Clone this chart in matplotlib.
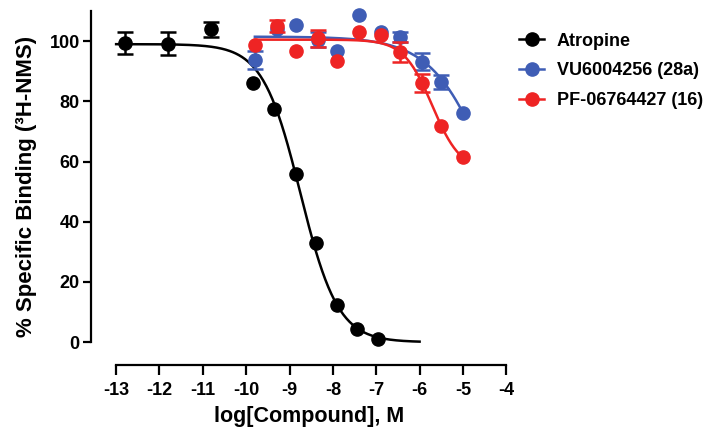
import numpy as np
import matplotlib
matplotlib.use('Agg')
import matplotlib.pyplot as plt
from matplotlib.lines import Line2D

plt.rcParams['font.family'] = ['Liberation Sans', 'DejaVu Sans']
plt.rcParams['font.weight'] = 'bold'
plt.rcParams['axes.unicode_minus'] = False

# data
atr_x = [-12.8, -11.8, -10.8, -9.85, -9.35, -8.85, -8.4, -7.9, -7.45, -6.95]
atr_y = [99.4, 99.2, 103.9, 86.0, 77.3, 56.0, 33.0, 12.3, 4.4, 0.9]
atr_err = [3.8, 3.8, 2.5, 0, 0, 0, 0, 0, 0, 0]

cmp_x = [-9.8, -9.3, -8.85, -8.35, -7.9, -7.4, -6.9, -6.45, -5.95, -5.5, -5.0]
vu_y = [93.7, 104.0, 105.3, 100.5, 96.8, 108.6, 103.1, 101.4, 93.1, 86.5, 76.2]
vu_err = [3.0, 0, 0, 2.5, 0, 0, 0, 1.7, 2.8, 2.3, 0]
pf_y = [98.7, 105.0, 96.8, 100.9, 93.3, 103.1, 102.0, 96.4, 86.1, 71.8, 61.4]
pf_err = [0, 2.0, 0, 2.8, 0, 0, 0, 3.3, 3.0, 0, 0]

# 4-parameter fits (top, bottom, logIC50, hill) and curve ranges
atr_fit = (99.0, 0.0, -8.75, 1.0)
vu_fit = (101.5, 0.0, -4.24, 0.63)
pf_fit = (100.5, 56.8, -5.71, 1.32)
atr_range = (-13.0, -6.0)
cmp_range = (-9.8, -5.0)

labels = ['Atropine', 'VU6004256 (28a)', 'PF-06764427 (16)']
colors = ['#000000', '#3F5DB5', '#EE2424']


def sigmoid(x, p):
    top, bottom, c, h = p
    return bottom + (top - bottom) / (1 + 10 ** ((x - c) * h))


fig = plt.figure(figsize=(7.13, 4.32), dpi=100)
ax = fig.add_axes([0.1276, 0.155, 0.6129, 0.8264])

series = [(atr_x, atr_y, atr_err, atr_fit, atr_range, colors[0]),
          (cmp_x, vu_y, vu_err, vu_fit, cmp_range, colors[1]),
          (cmp_x, pf_y, pf_err, pf_fit, cmp_range, colors[2])]

for z, (x, y, e, fit, rng, c) in enumerate(series):
    x = np.array(x); y = np.array(y); e = np.array(e)
    xs = np.linspace(rng[0], rng[1], 300)
    ax.plot(xs, sigmoid(xs, fit), color=c, lw=1.8, zorder=2 + z * 3)
    m = e > 0
    ax.errorbar(x[m], y[m], yerr=e[m], fmt='none', ecolor=c, elinewidth=1.8,
                capsize=6, capthick=1.8, zorder=3 + z * 3)
    ax.plot(x, y, 'o', color=c, ms=9.5, zorder=4 + z * 3)

ax.set_xlim(-13.58, -3.5)
ax.set_ylim(-7.6, 111)
ax.spines['top'].set_visible(False)
ax.spines['right'].set_visible(False)
ax.spines['left'].set_bounds(0, 110)
ax.spines['bottom'].set_bounds(-13, -4)
for s in ['left', 'bottom']:
    ax.spines[s].set_linewidth(1.6)

ax.set_xticks(range(-13, -3))
ax.set_yticks(range(0, 101, 20))
ax.tick_params(width=1.6, length=6, labelsize=13, pad=2)
ax.tick_params(axis='x', length=7, pad=5)

ax.set_xlabel('log[Compound], M', fontsize=15.5, fontweight='bold', labelpad=5)
ax.set_ylabel('% Specific Binding (³H-NMS)', fontsize=16, fontweight='bold', labelpad=9)

handles = [Line2D([], [], color=c, marker='o', ms=9.5, lw=1.8) for c in colors]
fig.legend(handles, labels, loc='upper left', bbox_to_anchor=(0.705, 0.962),
           frameon=False, fontsize=13, handlelength=1.4, handletextpad=0.7,
           labelspacing=0.7)

plt.savefig('out.png', dpi=100)
